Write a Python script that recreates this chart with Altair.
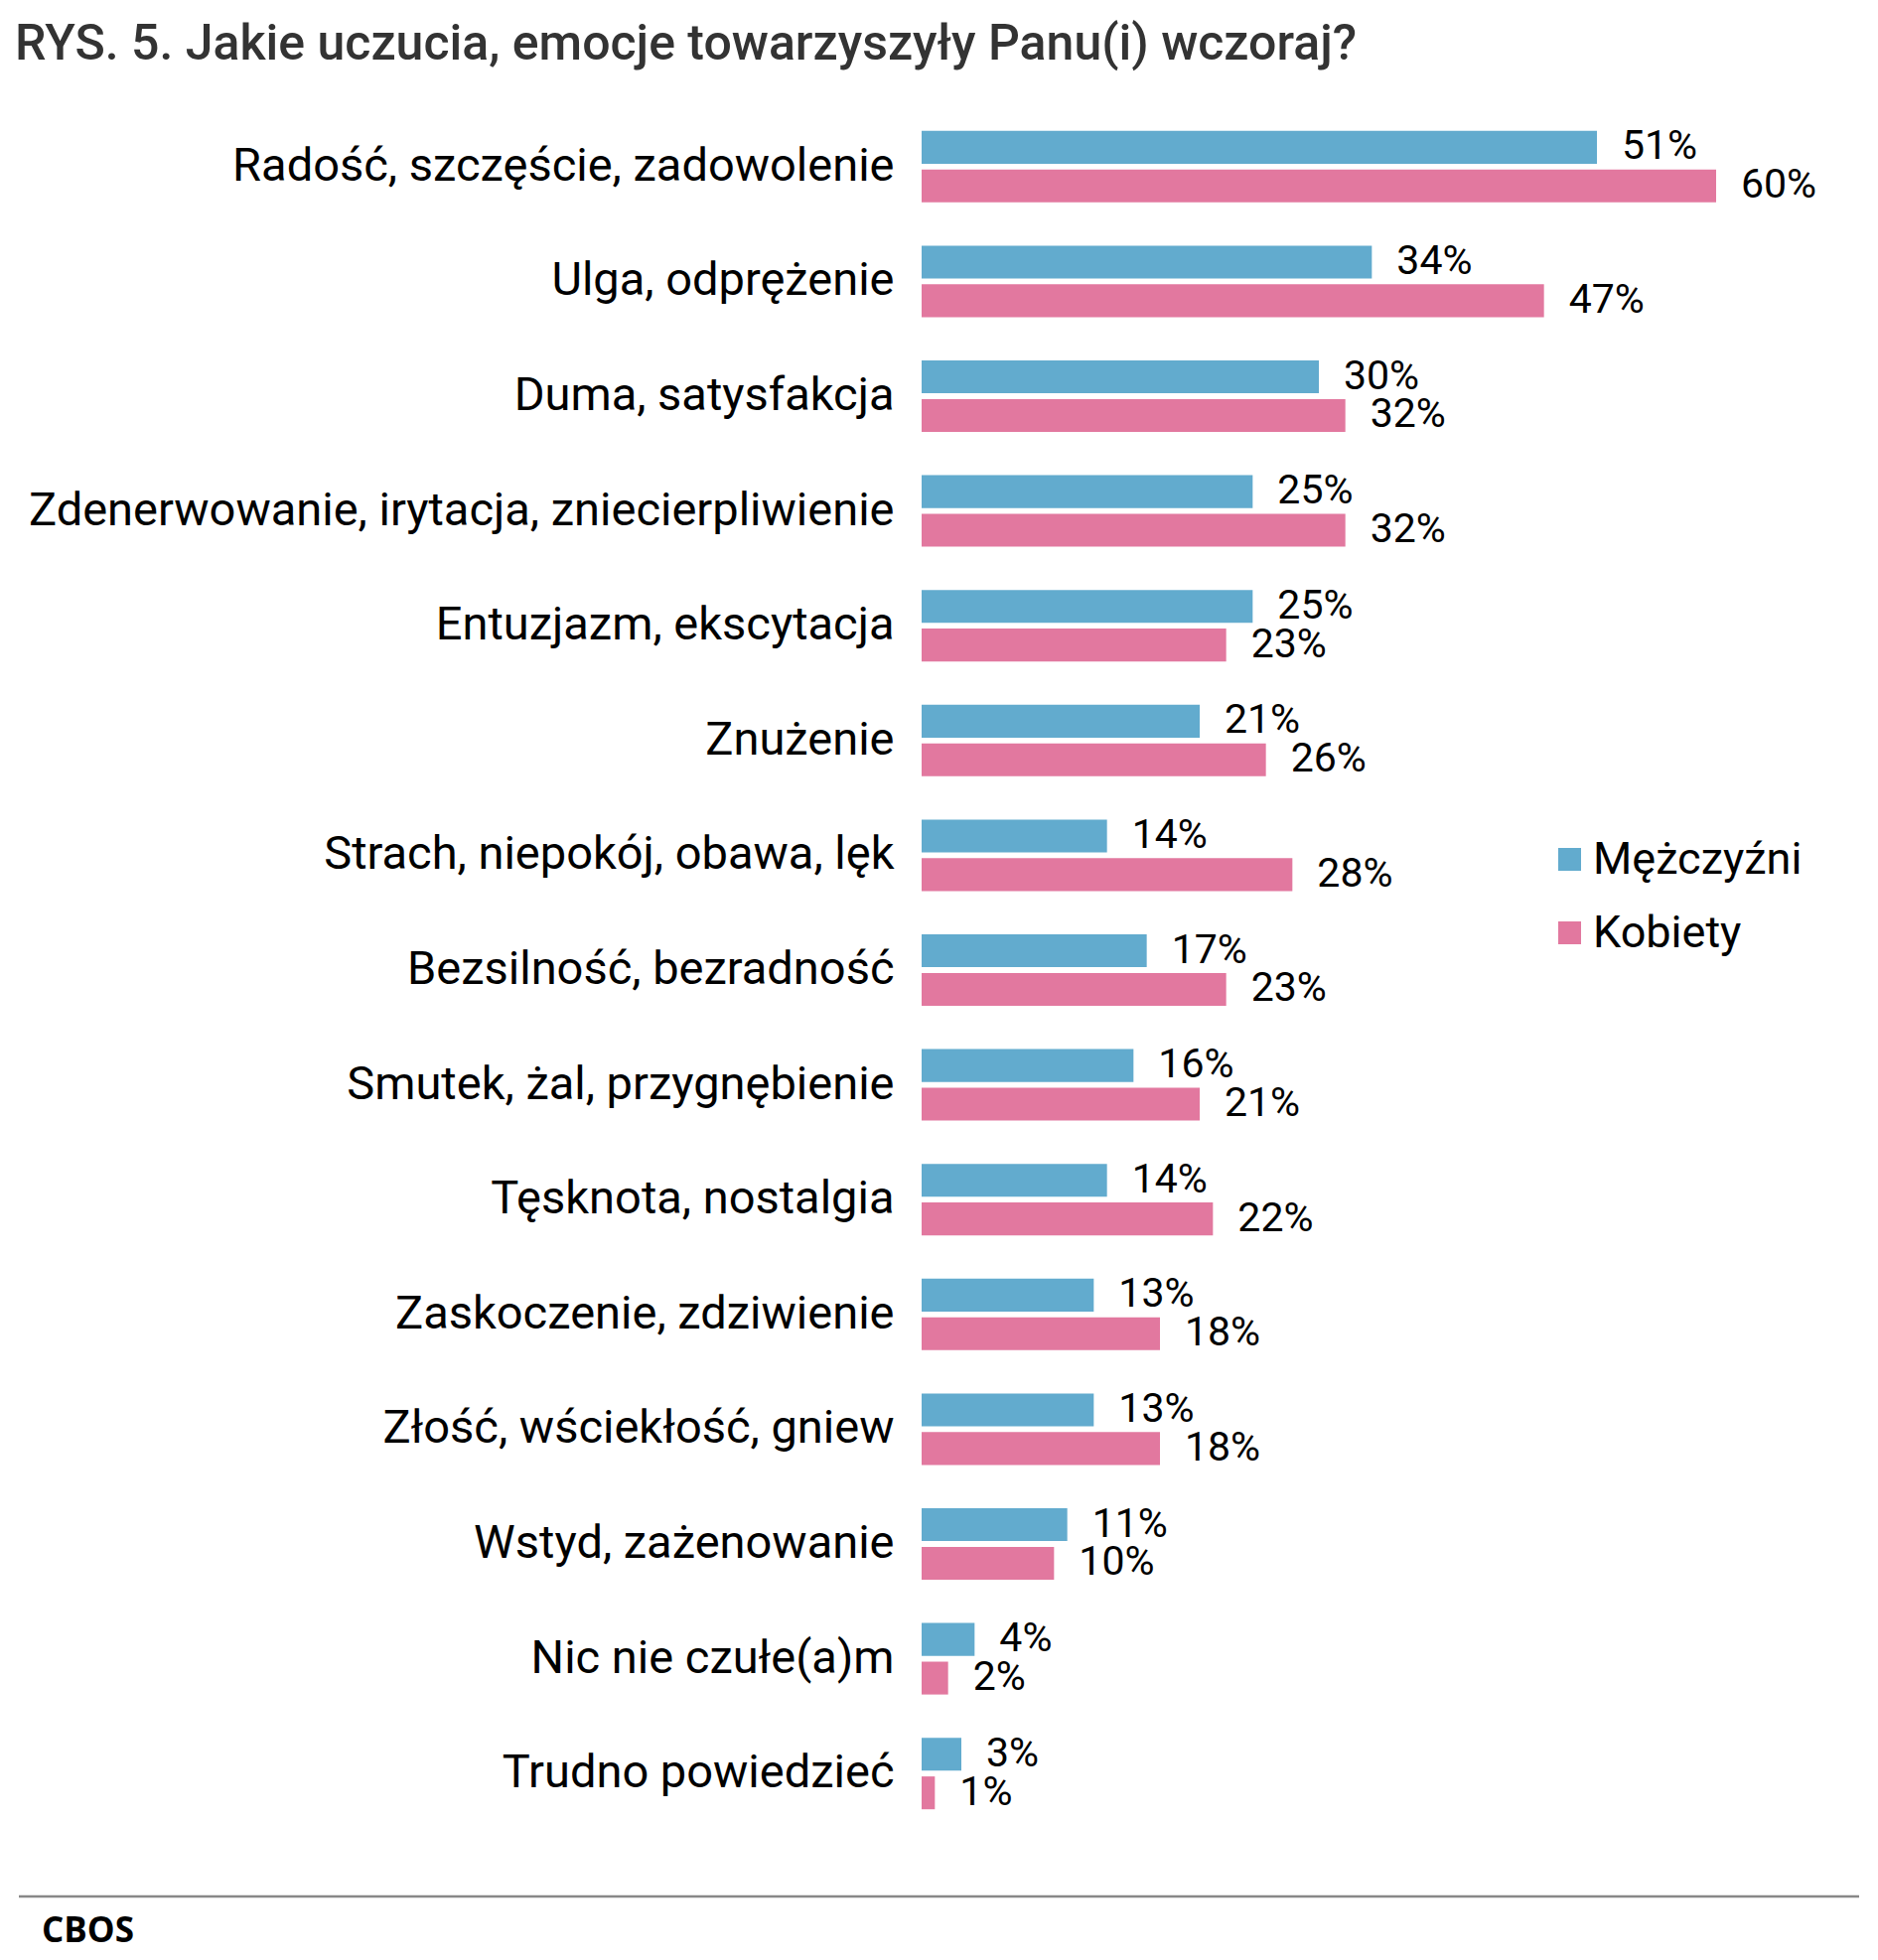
import altair as alt
import pandas as pd

categories = [
    "Radość, szczęście, zadowolenie",
    "Ulga, odprężenie",
    "Duma, satysfakcja",
    "Zdenerwowanie, irytacja, zniecierpliwienie",
    "Entuzjazm, ekscytacja",
    "Znużenie",
    "Strach, niepokój, obawa, lęk",
    "Bezsilność, bezradność",
    "Smutek, żal, przygnębienie",
    "Tęsknota, nostalgia",
    "Zaskoczenie, zdziwienie",
    "Złość, wściekłość, gniew",
    "Wstyd, zażenowanie",
    "Nic nie czułe(a)m",
    "Trudno powiedzieć",
]
men = [51, 34, 30, 25, 25, 21, 14, 17, 16, 14, 13, 13, 11, 4, 3]
women = [60, 47, 32, 32, 23, 26, 28, 23, 21, 22, 18, 18, 10, 2, 1]
groups = ["Mężczyźni", "Kobiety"]
colors = ["#62abce", "#e2789f"]

rows = []
for cat, m, w in zip(categories, men, women):
    rows.append({"kategoria": cat, "plec": groups[0], "wartosc": m, "etykieta": f"{m}%"})
    rows.append({"kategoria": cat, "plec": groups[1], "wartosc": w, "etykieta": f"{w}%"})
df = pd.DataFrame(rows)

FONT = "Roboto"
LEFT = 928
TOP = 110
PLOT_W = 960
PLOT_H = 1734

y_enc = alt.Y(
    "kategoria:N",
    sort=categories,
    scale=alt.Scale(paddingInner=0.377, paddingOuter=0.1885),
    axis=alt.Axis(
        title=None, domain=False, ticks=False, grid=False, labelPadding=28,
        labelFontSize=47, labelFont=FONT, labelColor="#000000",
        labelLimit=1000,
    ),
)
yoff = alt.YOffset("plec:N", sort=groups, scale=alt.Scale(paddingInner=0.15, paddingOuter=0))
x_enc = alt.X("wartosc:Q", scale=alt.Scale(domain=[0, 72]), axis=None)

bars = alt.Chart(df).mark_bar(cornerRadius=0).encode(
    x=x_enc,
    y=y_enc,
    yOffset=yoff,
    color=alt.Color(
        "plec:N",
        sort=groups,
        scale=alt.Scale(domain=groups, range=colors),
        legend=alt.Legend(
            title=None, orient="none", legendX=630, legendY=733,
            symbolType="square", symbolSize=529, symbolStrokeWidth=0,
            labelFontSize=45, labelFont=FONT, labelColor="#000000",
            labelOffset=1, rowPadding=28, labelLimit=600,
        ),
    ),
)

labels = alt.Chart(df).mark_text(
    align="left", baseline="middle", dx=25, fontSize=41, font=FONT, color="#000000"
).encode(
    x=x_enc,
    y=y_enc,
    yOffset=yoff,
    text="etykieta:N",
)

footer_line = alt.Chart(alt.Data(values=[{}])).mark_rule(color="#888888", strokeWidth=2.5).encode(
    x=alt.value(19 - LEFT), x2=alt.value(1872 - LEFT), y=alt.value(1910 - TOP)
)
footer_text = alt.Chart(alt.Data(values=[{}])).mark_text(
    align="left", baseline="middle", fontSize=35, font="Open Sans", fontWeight="bold", color="#000000"
).encode(
    x=alt.value(42 - LEFT), y=alt.value(1945 - TOP), text=alt.value("CBOS")
)

chart = alt.layer(bars, labels, footer_line, footer_text).properties(
    width=PLOT_W,
    height=PLOT_H,
    title=alt.TitleParams(
        "RYS. 5. Jakie uczucia, emocje towarzyszyły Panu(i) wczoraj?",
        anchor="start", frame="group", dx=15 - LEFT,
        fontSize=50, font=FONT, fontWeight=500, color="#333333", offset=40,
    ),
    padding={"left": LEFT, "top": TOP, "right": 1891 - LEFT - PLOT_W, "bottom": 1974 - TOP - PLOT_H},
    autosize=alt.AutoSizeParams(type="none"),
    background="#ffffff",
).configure_view(stroke=None)

chart.save("out.html", embed_options={"renderer": "svg", "actions": False})
